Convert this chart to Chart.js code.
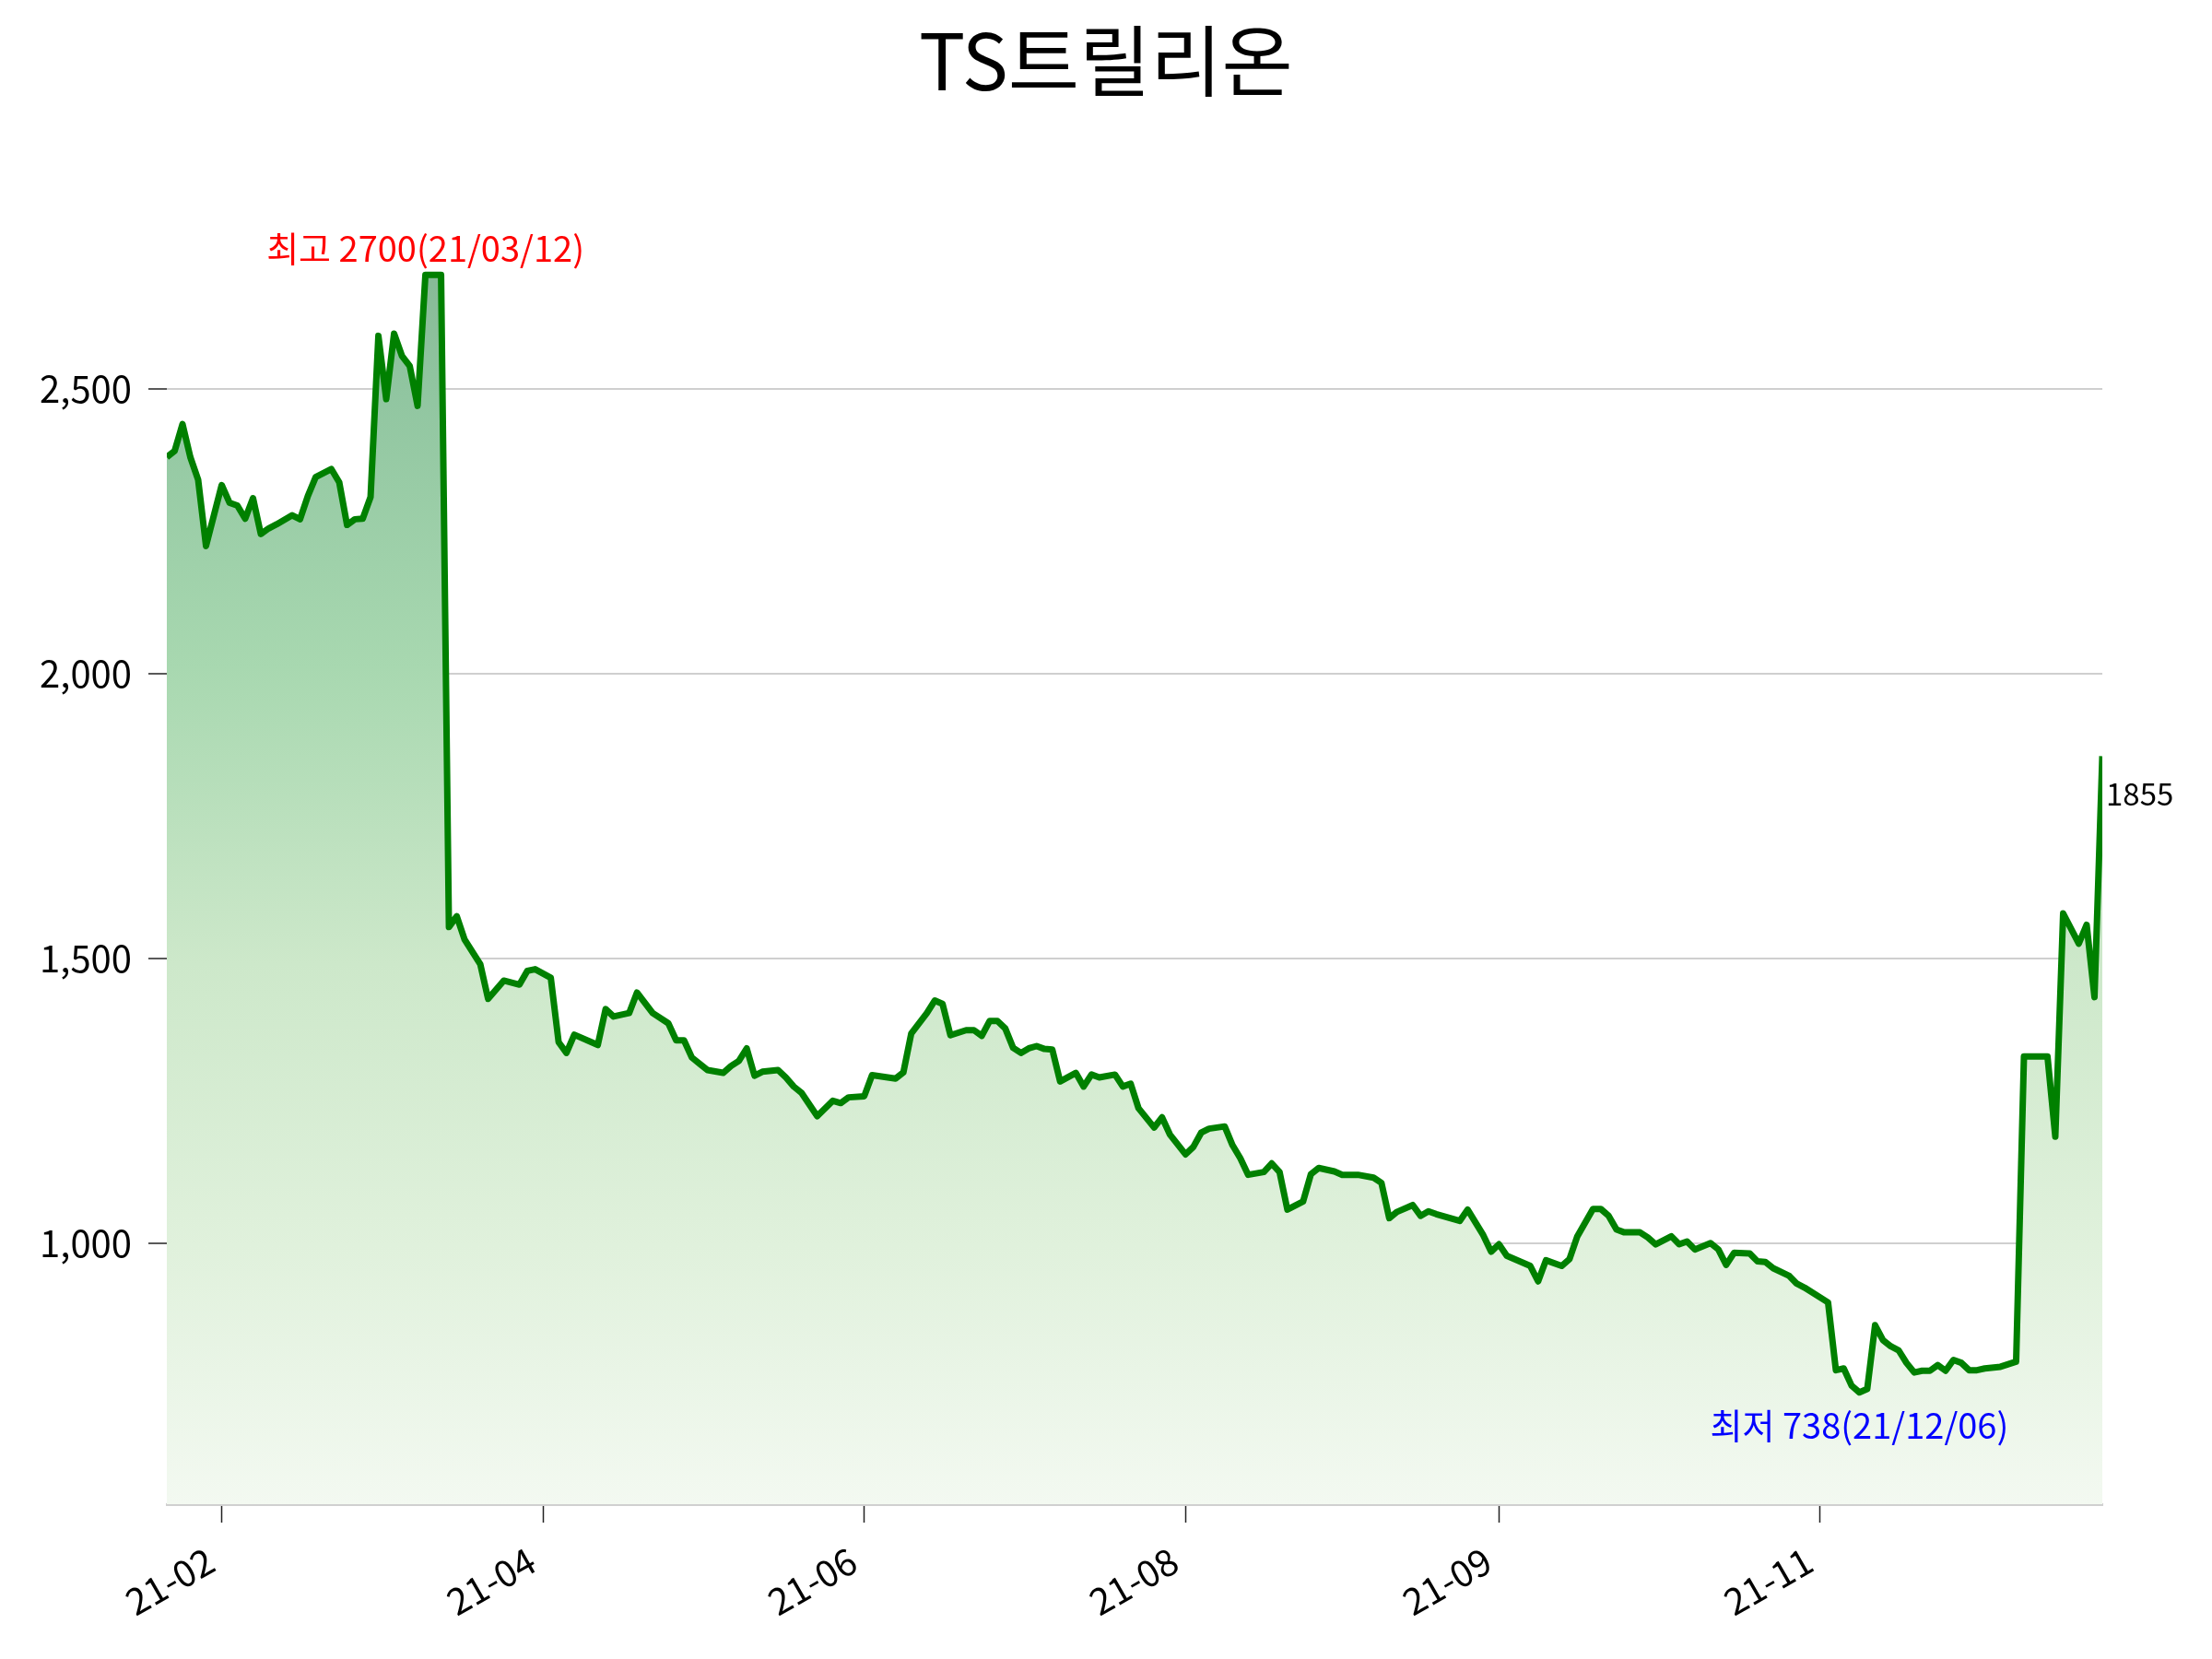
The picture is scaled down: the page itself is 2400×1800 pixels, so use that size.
<!DOCTYPE html>
<html>
<head>
<meta charset="utf-8">
<script src="https://cdn.jsdelivr.net/npm/chart.js@4.4.0/dist/chart.umd.min.js"></script>
<style>
  html, body { margin: 0; padding: 0; background: #fff; }
  #wrap { width: 2400px; height: 1800px; }
</style>
</head>
<body>
<div id="wrap"><canvas id="chart" width="2400" height="1800"></canvas></div>
<script>
const title = 'TS트릴리온';

// trading-day index since 21/01/21
const days = [
  0, 1, 2, 3, 4, 5, 7, 8, 9, 10,
  11, 12, 13, 14, 16, 17, 18, 19, 21, 22,
  23, 24, 25, 26, 27, 28, 29, 30, 31, 32,
  33, 35, 36, 37, 38, 40, 41, 43, 45, 46,
  47, 49, 50, 51, 52, 55, 56, 57, 59, 60,
  62, 64, 65, 66, 67, 68, 69, 71, 72, 73,
  74, 75, 76, 78, 79, 80, 81, 83, 85, 86,
  87, 89, 90, 93, 94, 95, 97, 98, 99, 100,
  102, 103, 104, 105, 106, 107, 108, 109, 110, 111,
  112, 113, 114, 116, 117, 118, 119, 121, 122, 123,
  124, 126, 127, 128, 130, 131, 132, 133, 135, 136,
  137, 138, 140, 141, 142, 143, 145, 146, 147, 149,
  150, 152, 154, 155, 156, 157, 159, 160, 161, 162,
  165, 166, 168, 169, 170, 171, 174, 175, 176, 178,
  179, 180, 182, 183, 184, 185, 186, 188, 189, 190,
  192, 193, 194, 195, 197, 198, 199, 200, 202, 203,
  204, 205, 207, 208, 209, 212, 213, 214, 215, 216,
  217, 218, 219, 220, 221, 222, 223, 224, 225, 226,
  227, 228, 229, 230, 231, 232, 234, 236, 237, 240,
  241, 242, 244, 245, 246, 247
];

// closing price
const prices = [
  2380, 2391, 2438, 2380, 2340, 2224, 2331, 2300, 2295, 2272,
  2308, 2245, 2255, 2262, 2278, 2271, 2312, 2345, 2359, 2336,
  2261, 2271, 2272, 2310, 2593, 2482, 2597, 2558, 2540, 2470,
  2700, 2700, 1555, 1574, 1533, 1490, 1429, 1461, 1454, 1478,
  1481, 1466, 1353, 1334, 1366, 1348, 1411, 1398, 1404, 1440,
  1404, 1386, 1356, 1356, 1326, 1315, 1304, 1299, 1311, 1320,
  1342, 1294, 1301, 1304, 1291, 1275, 1264, 1223, 1250, 1246,
  1256, 1258, 1295, 1289, 1300, 1368, 1404, 1426, 1420, 1365,
  1374, 1374, 1364, 1390, 1390, 1377, 1343, 1334, 1342, 1346,
  1341, 1340, 1284, 1299, 1275, 1296, 1291, 1296, 1275, 1280,
  1237, 1203, 1221, 1191, 1156, 1169, 1194, 1201, 1205, 1172,
  1149, 1120, 1125, 1140, 1125, 1059, 1073, 1121, 1132, 1126,
  1120, 1120, 1115, 1106, 1044, 1055, 1067, 1048, 1056, 1051,
  1039, 1059, 1014, 985, 998, 978, 960, 933, 970, 960,
  972, 1012, 1060, 1060, 1048, 1024, 1019, 1019, 1010, 998,
  1012, 998, 1003, 989, 1000, 989, 962, 983, 982, 968,
  967, 956, 943, 929, 922, 896, 777, 780, 750, 738,
  744, 856, 830, 819, 812, 790, 773, 776, 776, 786,
  776, 795, 790, 777, 777, 780, 783, 792, 1328, 1328,
  1187, 1579, 1526, 1559, 1432, 1855
];

const tickDays = [7, 48, 89, 130, 170, 211];
const tickLabels = ['21-02', '21-04', '21-06', '21-08', '21-09', '21-11'];
const yTicks = [1000, 1500, 2000, 2500];
const highDate = '21/03/12';
const lowDate = '21/12/06';

const FONT = '"Noto Sans CJK KR", "Noto Sans", sans-serif';
const hi = Math.max(...prices);
const lo = Math.min(...prices);
const pad = (hi - lo) * 0.1;

function fillGradient(c) {
  const chart = c.chart;
  const area = chart.chartArea;
  if (!area) return 'rgba(0,0,0,0)';
  const yTop = chart.scales.y.getPixelForValue(hi);
  const g = chart.ctx.createLinearGradient(0, area.bottom, 0, yTop);
  g.addColorStop(0, '#f3f9f1');
  g.addColorStop(0.21, '#e0f1dc');
  g.addColorStop(0.44, '#cde8ca');
  g.addColorStop(0.68, '#a8d8b0');
  g.addColorStop(0.91, '#90c5a0');
  g.addColorStop(1, '#87ba96');
  return g;
}

// title + high / low / last value labels
const labels = {
  id: 'labels',
  afterDatasetsDraw(chart) {
    const { ctx, scales: { x, y } } = chart;
    const iHi = prices.indexOf(hi);
    const iLo = prices.indexOf(lo);
    const iLast = prices.length - 1;
    ctx.save();
    ctx.textAlign = 'center';
    ctx.textBaseline = 'alphabetic';
    ctx.font = '84px ' + FONT;
    ctx.fillStyle = '#000';
    ctx.fillText(title, chart.width / 2, 98);

    ctx.font = '38px ' + FONT;
    ctx.fillStyle = 'red';
    ctx.fillText('최고 ' + hi + '(' + highDate + ')', x.getPixelForValue(days[iHi]), y.getPixelForValue(hi) - 14);
    ctx.fillStyle = 'blue';
    ctx.fillText('최저 ' + lo + '(' + lowDate + ')', x.getPixelForValue(days[iLo]), y.getPixelForValue(lo) + 50);
    ctx.textAlign = 'left';
    ctx.font = '33px ' + FONT;
    ctx.fillStyle = 'black';
    ctx.fillText(String(prices[iLast]), x.getPixelForValue(days[iLast]) + 4, y.getPixelForValue(prices[iLast]) + 54);
    ctx.restore();
  }
};

new Chart(document.getElementById('chart'), {
  type: 'line',
  data: {
    datasets: [{
      data: days.map((d, i) => ({ x: d, y: prices[i] })),
      borderColor: 'green',
      borderWidth: 7,
      borderJoinStyle: 'round',
      pointRadius: 0,
      tension: 0,
      fill: 'start',
      backgroundColor: fillGradient,
    }],
  },
  options: {
    responsive: false,
    animation: false,
    devicePixelRatio: 1,
    layout: { padding: { left: 0, right: 119, top: 177, bottom: 0 } },
    plugins: {
      legend: { display: false },
      tooltip: { enabled: false },
      title: { display: false },
    },
    scales: {
      x: {
        type: 'linear',
        min: days[0],
        max: days[days.length - 1],
        afterBuildTicks: s => { s.ticks = tickDays.map(v => ({ value: v })); },
        afterFit: s => { s.height = 168; },
        ticks: {
          callback: v => tickLabels[tickDays.indexOf(v)],
          autoSkip: false,
          minRotation: 30,
          maxRotation: 30,
          padding: 17,
          labelOffset: -12,
          color: '#000',
          font: { family: FONT, size: 40 },
        },
        grid: { drawOnChartArea: false, tickLength: 20, tickColor: '#222', tickWidth: 1.5 },
        border: { display: true, color: '#d0d0d0', width: 3 },
      },
      y: {
        min: lo - pad,
        max: hi + pad,
        afterBuildTicks: s => { s.ticks = yTicks.map(v => ({ value: v })); },
        afterFit: s => { s.width = 181; },
        ticks: {
          callback: v => v.toLocaleString('en-US'),
          padding: 18,
          color: '#000',
          font: { family: FONT, size: 40 },
        },
        grid: { color: '#cfcfcf', lineWidth: 2, tickLength: 20, tickColor: '#222', tickWidth: 1.5 },
        border: { display: false },
      },
    },
  },
  plugins: [labels],
});
</script>
</body>
</html>
